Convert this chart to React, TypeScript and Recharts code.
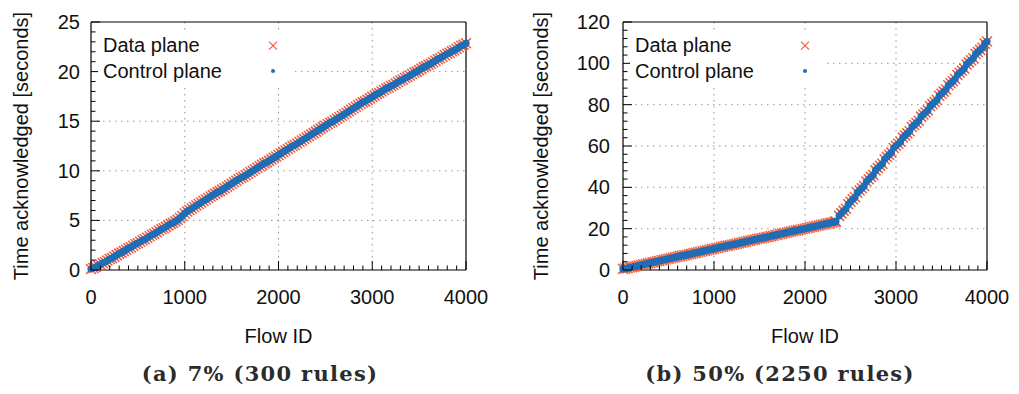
import { ScatterChart, Scatter, XAxis, YAxis, CartesianGrid, Legend } from "recharts"

// chart (a): 7% (300 rules) -- data plane and control plane overlap, same readings
const flowIdsA = [
  0, 25, 50, 75, 100, 125, 150, 175, 200, 225, 250, 275, 300, 325, 350, 375, 400, 425, 450, 475,
  500, 525, 550, 575, 600, 625, 650, 675, 700, 725, 750, 775, 800, 825, 850, 875, 900, 925, 950, 975,
  1000, 1025, 1050, 1075, 1100, 1125, 1150, 1175, 1200, 1225, 1250, 1275, 1300, 1325, 1350, 1375, 1400, 1425, 1450, 1475,
  1500, 1525, 1550, 1575, 1600, 1625, 1650, 1675, 1700, 1725, 1750, 1775, 1800, 1825, 1850, 1875, 1900, 1925, 1950, 1975,
  2000, 2025, 2050, 2075, 2100, 2125, 2150, 2175, 2200, 2225, 2250, 2275, 2300, 2325, 2350, 2375, 2400, 2425, 2450, 2475,
  2500, 2525, 2550, 2575, 2600, 2625, 2650, 2675, 2700, 2725, 2750, 2775, 2800, 2825, 2850, 2875, 2900, 2925, 2950, 2975,
  3000, 3025, 3050, 3075, 3100, 3125, 3150, 3175, 3200, 3225, 3250, 3275, 3300, 3325, 3350, 3375, 3400, 3425, 3450, 3475,
  3500, 3525, 3550, 3575, 3600, 3625, 3650, 3675, 3700, 3725, 3750, 3775, 3800, 3825, 3850, 3875, 3900, 3925, 3950, 3975,
  4000,
]
const timeA = [
  0.1, 0.2, 0.3, 0.45, 0.55, 0.7, 0.8, 0.95, 1.1, 1.2, 1.35, 1.5, 1.65, 1.75, 1.9, 2.05, 2.2, 2.3, 2.45, 2.6,
  2.7, 2.85, 3.0, 3.1, 3.25, 3.4, 3.55, 3.65, 3.8, 3.95, 4.1, 4.2, 4.35, 4.5, 4.65, 4.75, 4.9, 5.05, 5.25, 5.45,
  5.7, 5.9, 6.05, 6.2, 6.35, 6.5, 6.65, 6.8, 6.95, 7.1, 7.25, 7.4, 7.55, 7.7, 7.85, 7.95, 8.1, 8.25, 8.4, 8.55,
  8.7, 8.85, 9.0, 9.15, 9.3, 9.4, 9.55, 9.7, 9.85, 10.0, 10.15, 10.3, 10.45, 10.6, 10.75, 10.85, 11.0, 11.15, 11.3, 11.45,
  11.6, 11.75, 11.9, 12.05, 12.2, 12.35, 12.5, 12.6, 12.75, 12.9, 13.05, 13.2, 13.35, 13.5, 13.65, 13.8, 13.95, 14.1, 14.25, 14.4,
  14.55, 14.7, 14.85, 14.95, 15.1, 15.25, 15.4, 15.55, 15.7, 15.85, 16.0, 16.15, 16.3, 16.45, 16.6, 16.75, 16.9, 17.0, 17.15, 17.3,
  17.45, 17.6, 17.75, 17.85, 18.0, 18.15, 18.3, 18.4, 18.55, 18.65, 18.8, 18.95, 19.1, 19.2, 19.35, 19.45, 19.6, 19.75, 19.9, 20.0,
  20.15, 20.3, 20.45, 20.55, 20.7, 20.8, 20.95, 21.1, 21.25, 21.35, 21.5, 21.65, 21.8, 21.9, 22.05, 22.15, 22.3, 22.45, 22.6, 22.7,
  22.85,
]

// chart (b): 50% (2250 rules)
const flowIdsB = [
  0, 25, 50, 75, 100, 125, 150, 175, 200, 225, 250, 275, 300, 325, 350, 375, 400, 425, 450, 475,
  500, 525, 550, 575, 600, 625, 650, 675, 700, 725, 750, 775, 800, 825, 850, 875, 900, 925, 950, 975,
  1000, 1025, 1050, 1075, 1100, 1125, 1150, 1175, 1200, 1225, 1250, 1275, 1300, 1325, 1350, 1375, 1400, 1425, 1450, 1475,
  1500, 1525, 1550, 1575, 1600, 1625, 1650, 1675, 1700, 1725, 1750, 1775, 1800, 1825, 1850, 1875, 1900, 1925, 1950, 1975,
  2000, 2025, 2050, 2075, 2100, 2125, 2150, 2175, 2200, 2225, 2250, 2275, 2300, 2325, 2340,
  2375, 2400, 2425, 2450, 2475, 2500, 2525, 2550, 2575, 2600, 2625, 2650, 2675, 2700, 2725, 2750, 2775, 2800, 2825, 2850,
  2875, 2900, 2925, 2950, 2975, 3000, 3025, 3050, 3075, 3100, 3125, 3150, 3175, 3200, 3225, 3250, 3275, 3300, 3325, 3350,
  3375, 3400, 3425, 3450, 3475, 3500, 3525, 3550, 3575, 3600, 3625, 3650, 3675, 3700, 3725, 3750, 3775, 3800, 3825, 3850,
  3875, 3900, 3925, 3950, 3975, 4000,
]
const timeB = [
  0.5, 0.7, 0.9, 1.2, 1.4, 1.7, 1.9, 2.2, 2.4, 2.7, 2.9, 3.2, 3.4, 3.7, 3.9, 4.2, 4.4, 4.7, 4.9, 5.2,
  5.4, 5.7, 5.9, 6.2, 6.4, 6.7, 6.9, 7.1, 7.3, 7.6, 7.8, 8.1, 8.3, 8.6, 8.8, 9.1, 9.3, 9.6, 9.8, 10.1,
  10.3, 10.6, 10.8, 11.1, 11.3, 11.6, 11.8, 12.0, 12.2, 12.5, 12.7, 13.0, 13.2, 13.5, 13.7, 14.0, 14.2, 14.5, 14.7, 15.0,
  15.2, 15.4, 15.6, 15.9, 16.1, 16.4, 16.6, 16.9, 17.1, 17.4, 17.6, 17.9, 18.1, 18.4, 18.6, 18.9, 19.1, 19.3, 19.5, 19.8,
  20.0, 20.3, 20.5, 20.8, 21.0, 21.3, 21.5, 21.8, 22.0, 22.3, 22.5, 22.8, 23.0, 23.3, 23.4,
  26.2, 27.4, 28.6, 29.6, 31.8, 33.0, 34.2, 35.2, 37.4, 38.5, 39.6, 40.6, 42.8, 43.9, 45.0, 46.0, 48.2, 49.3, 50.4, 51.4,
  53.6, 54.7, 55.8, 56.8, 59.0, 60.1, 61.1, 62.1, 64.1, 65.1, 66.1, 67.15, 69.15, 70.15, 71.15, 72.2, 74.2, 75.2, 76.2, 77.25,
  79.25, 80.25, 81.25, 82.3, 84.3, 85.3, 86.3, 87.35, 89.35, 90.35, 91.35, 92.4, 94.4, 95.4, 96.4, 97.45, 99.45, 100.45, 101.45, 102.5,
  104.5, 105.5, 106.5, 107.55, 109.55, 110.55,
]

const xMajor = [0, 1000, 2000, 3000, 4000]
const yMajorA = [0, 5, 10, 15, 20, 25]
const yMajorB = [0, 20, 40, 60, 80, 100, 120]

const seriesNames = ["Data plane", "Control plane"]
const captions = ["(a) 7% (300 rules)", "(b) 50% (2250 rules)"]

const RED = "#f2593c"
const BLUE = "#1f6db5"
const SANS = "'Liberation Sans', Arial, sans-serif"

// minor tick positions (not data)
const range = (from: number, to: number, step: number) => {
  const out: number[] = []
  for (let v = from; v <= to + 1e-9; v += step) out.push(Math.round(v * 1000) / 1000)
  return out
}

function Cross({ cx, cy, s = 5, w = 1.5 }: any) {
  if (cx == null || cy == null) return null
  return (
    <path
      d={`M${cx - s},${cy - s}L${cx + s},${cy + s}M${cx - s},${cy + s}L${cx + s},${cy - s}`}
      stroke={RED}
      strokeWidth={w}
      fill="none"
    />
  )
}

function Dot({ cx, cy }: any) {
  if (cx == null || cy == null) return null
  return <circle cx={cx} cy={cy} r={3.6} fill={BLUE} />
}

function makeTick(side: "bottom" | "top" | "left" | "right", majors: number[], gap = 11) {
  return (props: any) => {
    const { x, y, payload } = props
    const major = majors.includes(payload.value)
    const len = major ? 9 : 4.5
    const common = { stroke: "#000", strokeWidth: 1 }
    if (side === "bottom") {
      return (
        <g>
          <line x1={x} y1={y} x2={x} y2={y - len} {...common} />
          {major && (
            <text x={x} y={y + 33.5} textAnchor="middle" fontSize={20} fontFamily={SANS} fill="#111">
              {payload.value}
            </text>
          )}
        </g>
      )
    }
    if (side === "top") return <line x1={x} y1={y} x2={x} y2={y + len} {...common} />
    if (side === "left") {
      return (
        <g>
          <line x1={x} y1={y} x2={x + len} y2={y} {...common} />
          {major && (
            <text x={x - gap} y={y + 7} textAnchor="end" fontSize={20} fontFamily={SANS} fill="#111">
              {payload.value}
            </text>
          )}
        </g>
      )
    }
    return <line x1={x} y1={y} x2={x - len} y2={y} {...common} />
  }
}

function PlaneLegend() {
  return (
    <div style={{ position: "relative", width: 196, height: 52, background: "white", fontFamily: SANS, fontSize: 20, color: "#111" }}>
      <div style={{ position: "absolute", left: 5, top: 0, lineHeight: "25px", whiteSpace: "nowrap" }}>{seriesNames[0]}</div>
      <div style={{ position: "absolute", left: 5, top: 25.5, lineHeight: "25px", whiteSpace: "nowrap" }}>{seriesNames[1]}</div>
      <svg width={196} height={52} style={{ position: "absolute", left: 0, top: 0 }}>
        <Cross cx={175} cy={12.7} s={4} w={1.1} />
        <circle cx={175} cy={38} r={2} fill={BLUE} />
      </svg>
    </div>
  )
}

interface PanelProps {
  flowIds: number[]
  times: number[]
  yMajor: number[]
  yMinorStep: number
  width: number
  marginLeft: number
  marginRight: number
  yTitleX: number
  labelGap: number
}

function Panel({ flowIds, times, yMajor, yMinorStep, width, marginLeft, marginRight, yTitleX, labelGap }: PanelProps) {
  const data = flowIds.map((x, i) => ({ x, y: times[i] }))
  const yMax = yMajor[yMajor.length - 1]
  const xTicks = range(0, 4000, 100)
  const yTicks = range(0, yMax, yMinorStep)
  return (
    <ScatterChart width={width} height={394} margin={{ top: 12, right: marginRight, bottom: 84, left: marginLeft }}>
      <CartesianGrid
        stroke="#999"
        strokeDasharray="1.5 4.5"
        horizontalValues={yMajor.slice(1, -1)}
        verticalValues={xMajor.slice(1, -1)}
      />
      <XAxis
        type="number"
        dataKey="x"
        domain={[0, 4000]}
        ticks={xTicks}
        interval={0}
        tickSize={0}
        tickMargin={0}
        height={40}
        axisLine={{ stroke: "#000", strokeWidth: 1.2 }}
        tickLine={false}
        tick={makeTick("bottom", xMajor)}
        label={{
          content: ({ viewBox }: any) => (
            <text x={viewBox.x + viewBox.width / 2} y={viewBox.y + 73} textAnchor="middle" fontSize={20} fontFamily={SANS} fill="#111">
              Flow ID
            </text>
          ),
        }}
      />
      <XAxis
        xAxisId="top"
        orientation="top"
        type="number"
        domain={[0, 4000]}
        ticks={xTicks}
        interval={0}
        tickSize={0}
        tickMargin={0}
        height={10}
        axisLine={{ stroke: "#000", strokeWidth: 1.2 }}
        tickLine={false}
        tick={makeTick("top", xMajor)}
      />
      <YAxis
        type="number"
        dataKey="y"
        domain={[0, yMax]}
        ticks={yTicks}
        interval={0}
        tickSize={0}
        tickMargin={0}
        width={60}
        axisLine={{ stroke: "#000", strokeWidth: 1.2 }}
        tickLine={false}
        tick={makeTick("left", yMajor, labelGap)}
        label={{
          content: ({ viewBox }: any) => {
            const cy = viewBox.y + viewBox.height / 2
            return (
              <text x={yTitleX} y={cy} transform={`rotate(-90, ${yTitleX}, ${cy})`} textAnchor="middle" fontSize={20} fontFamily={SANS} fill="#111">
                Time acknowledged [seconds]
              </text>
            )
          },
        }}
      />
      <YAxis
        yAxisId="right"
        orientation="right"
        type="number"
        domain={[0, yMax]}
        ticks={yTicks}
        interval={0}
        tickSize={0}
        tickMargin={0}
        width={10}
        axisLine={{ stroke: "#000", strokeWidth: 1.2 }}
        tickLine={false}
        tick={makeTick("right", yMajor)}
      />
      <Legend
        layout="vertical"
        align="center"
        verticalAlign="middle"
        content={() => <PlaneLegend />}
        wrapperStyle={{ left: marginLeft + 60 + 7, top: 33, width: 196, height: 52 }}
      />
      <Scatter name={seriesNames[0]} data={data} shape={(p: any) => <Cross cx={p.cx} cy={p.cy} />} isAnimationActive={false} />
      <Scatter name={seriesNames[1]} data={data} shape={(p: any) => <Dot cx={p.cx} cy={p.cy} />} isAnimationActive={false} />
    </ScatterChart>
  )
}

const captionStyle = {
  position: "absolute" as const,
  top: 362,
  width: 320,
  textAlign: "center" as const,
  fontFamily: "'DejaVu Serif', serif",
  fontWeight: 700,
  fontSize: 21,
  letterSpacing: 1.3,
  lineHeight: "24px",
  color: "#2b2b2b",
  whiteSpace: "nowrap" as const,
}

export default function App() {
  return (
    <div style={{ position: "absolute", left: 0, top: 0, width: 1019, height: 394, background: "white", overflow: "hidden" }}>
      <div style={{ position: "absolute", left: 0, top: 0 }}>
        <Panel flowIds={flowIdsA} times={timeA} yMajor={yMajorA} yMinorStep={1} width={500}
          marginLeft={31} marginRight={24} yTitleX={27.5} labelGap={11} />
      </div>
      <div style={{ position: "absolute", left: 500, top: 0 }}>
        <Panel flowIds={flowIdsB} times={timeB} yMajor={yMajorB} yMinorStep={4} width={519}
          marginLeft={63} marginRight={22} yTitleX={47.5} labelGap={13} />
      </div>
      <div style={{ ...captionStyle, left: 260 - 160 }}>{captions[0]}</div>
      <div style={{ ...captionStyle, left: 780 - 160 }}>{captions[1]}</div>
    </div>
  )
}
